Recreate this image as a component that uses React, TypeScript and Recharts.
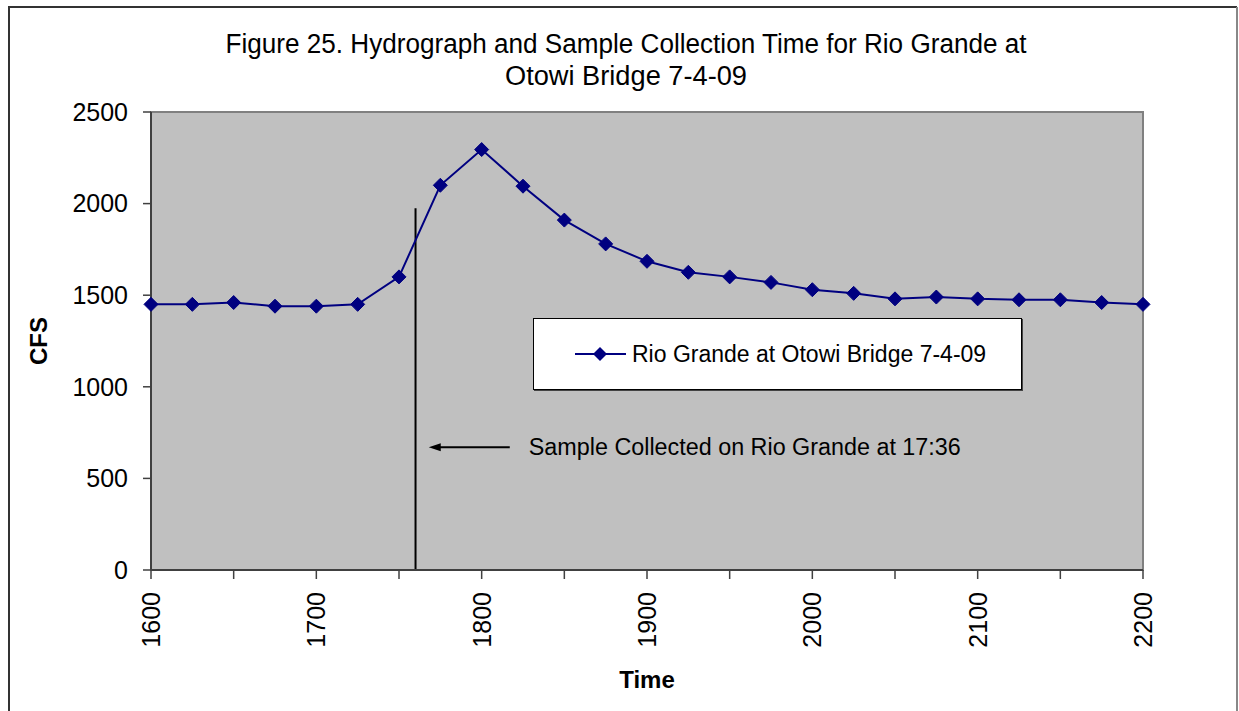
import React from "react";
import {
  LineChart,
  Line,
  XAxis,
  YAxis,
  CartesianGrid,
  ReferenceLine,
  ReferenceArea,
  Legend,
} from "recharts";

const times = [
  1600, 1625, 1650, 1675, 1700, 1725, 1750, 1775, 1800, 1825, 1850, 1875, 1900,
  1925, 1950, 1975, 2000, 2025, 2050, 2075, 2100, 2125, 2150, 2175, 2200,
];
const flows = [
  1450, 1450, 1460, 1440, 1440, 1450, 1600, 2100, 2295, 2095, 1910, 1780, 1685,
  1625, 1600, 1570, 1530, 1510, 1480, 1490, 1480, 1475, 1475, 1460, 1450,
];
const xTicks = [1600, 1650, 1700, 1750, 1800, 1850, 1900, 1950, 2000, 2050, 2100, 2150, 2200];
const yTicks = [0, 500, 1000, 1500, 2000, 2500];

const seriesName = "Rio Grande at Otowi Bridge 7-4-09";
const titleLines = [
  "Figure 25. Hydrograph and Sample Collection Time for Rio Grande at",
  "Otowi Bridge 7-4-09",
];
const sampleTime = 1760; // 17:36
const sampleTop = 1975;
const arrowFrom = 1817;
const arrowTo = 1768;
const arrowLevel = 670;
const sampleNote = "Sample Collected on Rio Grande at 17:36";

const data = times.map((t, i) => ({ time: t, cfs: flows[i] }));

const FONT = "Arial, 'Liberation Sans', sans-serif";
const NAVY = "#000080";

const Diamond = (props: any) => {
  const { cx, cy } = props;
  if (cx == null || cy == null) return null;
  const r = 7;
  return (
    <polygon
      points={`${cx},${cy - r} ${cx + r},${cy} ${cx},${cy + r} ${cx - r},${cy}`}
      fill={NAVY}
      stroke={NAVY}
    />
  );
};

const XTick = (props: any) => {
  const { x, y, payload } = props;
  if (payload.value % 100 !== 0) return null;
  return (
    <text
      x={x}
      y={y}
      transform={`rotate(-90 ${x} ${y})`}
      textAnchor="end"
      dominantBaseline="central"
      fontSize={25}
      fontFamily={FONT}
      fill="#000"
    >
      {payload.value}
    </text>
  );
};

const ArrowShape = (props: any) => {
  const { x1, y1, x2, y2 } = props;
  const left = Math.min(x1, x2);
  const right = Math.max(x1, x2);
  return (
    <g>
      <line x1={left + 6} y1={y1} x2={right} y2={y2} stroke="#000" strokeWidth={2} />
      <polygon points={`${left},${y1} ${left + 12},${y1 - 4} ${left + 12},${y1 + 4}`} fill="#000" />
      <text
        x={right + 19}
        y={y1}
        dominantBaseline="central"
        fontSize={23}
        fontFamily={FONT}
        fill="#000"
        textLength={432}
        lengthAdjust="spacingAndGlyphs"
      >
        {sampleNote}
      </text>
    </g>
  );
};

const LegendBox = () => (
  <div
    style={{
      width: 489,
      height: 72,
      boxSizing: "border-box",
      background: "#fff",
      border: "1px solid #000",
      boxShadow: "1px 1px 0 #444",
      display: "flex",
      alignItems: "center",
      fontFamily: FONT,
      fontSize: 23,
      color: "#000",
    }}
  >
    <svg width={98} height={20} style={{ flex: "none" }}>
      <line x1={41} y1={10} x2={92} y2={10} stroke={NAVY} strokeWidth={2} />
      <polygon points="66,3 73,10 66,17 59,10" fill={NAVY} />
    </svg>
    <span>{seriesName}</span>
  </div>
);

export default function App() {
  return (
    <div
      style={{
        position: "fixed",
        left: 0,
        top: 0,
        width: 1239,
        height: 711,
        background: "#fff",
        overflow: "hidden",
      }}
    >
      <svg style={{ position: "absolute", left: 0, top: 0 }} width={1239} height={100}>
        <text x={626} y={53} textAnchor="middle" fontSize={27} fontFamily={FONT} textLength={801} lengthAdjust="spacingAndGlyphs">
          {titleLines[0]}
        </text>
        <text x={626} y={85} textAnchor="middle" fontSize={27} fontFamily={FONT} textLength={242} lengthAdjust="spacingAndGlyphs">
          {titleLines[1]}
        </text>
      </svg>
      <div style={{ position: "absolute", left: 0, top: 0 }}>
        <LineChart
          width={1239}
          height={711}
          data={data}
          margin={{ top: 112, right: 96, bottom: 20, left: 20 }}
        >
          <ReferenceArea x1={1600} x2={2200} y1={0} y2={2500} fill="#C0C0C0" fillOpacity={1} stroke="#808080" strokeWidth={2} />
          <CartesianGrid vertical={false} stroke="#000" strokeWidth={1.3} horizontalValues={[500, 1000, 1500, 2000]} />
          <XAxis
            dataKey="time"
            type="number"
            domain={[1600, 2200]}
            ticks={xTicks}
            interval={0}
            height={121}
            tickSize={9}
            tickMargin={13}
            tick={<XTick />}
            axisLine={{ stroke: "#404040", strokeWidth: 2 }}
            tickLine={{ stroke: "#404040", strokeWidth: 1.5 }}
            label={(p: any) => (
              <text x={647} y={688} textAnchor="middle" fontSize={24} fontWeight="bold" fontFamily={FONT}>
                Time
              </text>
            )}
          />
          <YAxis
            type="number"
            domain={[0, 2500]}
            ticks={yTicks}
            interval={0}
            width={131}
            tickSize={8}
            tickMargin={15}
            tick={{ fontSize: 25, fill: "#000", fontFamily: FONT }}
            axisLine={{ stroke: "#404040", strokeWidth: 2 }}
            tickLine={{ stroke: "#404040", strokeWidth: 1.5 }}
            label={(p: any) => (
              <text
                x={38}
                y={341}
                transform="rotate(-90 38 341)"
                textAnchor="middle"
                dominantBaseline="central"
                fontSize={24}
                fontWeight="bold"
                fontFamily={FONT}
              >
                CFS
              </text>
            )}
          />
          <ReferenceLine
            segment={[
              { x: sampleTime, y: 0 },
              { x: sampleTime, y: sampleTop },
            ]}
            stroke="#000"
            strokeWidth={2}
          />
          <ReferenceLine
            segment={[
              { x: arrowTo, y: arrowLevel },
              { x: arrowFrom, y: arrowLevel },
            ]}
            shape={<ArrowShape />}
          />
          <Legend
            layout="vertical"
            verticalAlign="middle"
            align="center"
            content={<LegendBox />}
            wrapperStyle={{ left: 533, top: 318, width: 489, height: 72 }}
          />
          <Line
            type="linear"
            dataKey="cfs"
            name={seriesName}
            stroke={NAVY}
            strokeWidth={2}
            dot={<Diamond />}
            activeDot={false}
            isAnimationActive={false}
          />
        </LineChart>
      </div>
      <svg
        style={{ position: "absolute", left: 0, top: 0, pointerEvents: "none" }}
        width={1239}
        height={711}
      >
        <path d="M9,711 V7 H1237" fill="none" stroke="#333" strokeWidth={2} />
        <path d="M1237,7 V711" fill="none" stroke="#888" strokeWidth={2} />
      </svg>
    </div>
  );
}
